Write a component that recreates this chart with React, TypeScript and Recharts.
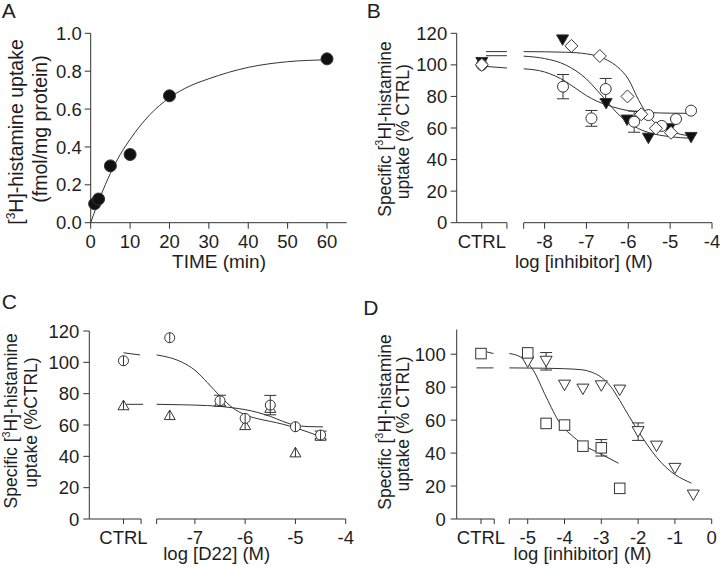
import React from 'react';
import { ComposedChart, Line, Scatter, XAxis, YAxis, ReferenceLine, ErrorBar } from 'recharts';

const FONT = '"Liberation Sans", Arial, Helvetica, sans-serif';
const INK = '#1e1e1e';
const STROKE = '#333';

// ---- A: time course ----
const timeMin = [1, 2, 5, 10, 20, 60];
const uptakeFmol = [0.1, 0.125, 0.3, 0.36, 0.67, 0.865];
const timeFitX = [0, 2.5, 5, 7.5, 10, 15, 20, 25, 30, 40, 50, 60];
const timeFitY = [0, 0.14, 0.26, 0.36, 0.44, 0.57, 0.66, 0.72, 0.76, 0.82, 0.85, 0.86];
const timeTicks = [0, 10, 20, 30, 40, 50, 60];
const uptakeTicks = [0, 0.2, 0.4, 0.6, 0.8, 1.0];

// ---- B: inhibitors (filled triangle, diamond, circle) ----
const B_CTRL = -9.5;
const bTicks = [B_CTRL, -8.9, -8.5, -8, -7, -6, -5, -4];
const bTickText = ['CTRL', '', '', '-8', '-7', '-6', '-5', '-4'];
const bTriX = [B_CTRL, -7.57, -6.53, -6.03, -5.52, -5.02, -4.5];
const bTriY = [101.5, 115.8, 75.5, 65, 53.5, 59.5, 54];
const bDiaX = [B_CTRL, -7.36, -6.68, -6.02, -5.69, -5.34, -4.98];
const bDiaY = [100, 112, 105.6, 80, 68.7, 59.8, 57];
const bCirX = [B_CTRL, -7.56, -6.88, -6.54, -5.86, -5.52, -5.2, -4.86, -4.5];
const bCirY = [100, 86.2, 66.1, 84.7, 64, 68.2, 61.3, 65.7, 71];
const bCirErr = [0, 7.7, 5, 6.7, 6.7, 0, 0, 0, 0];
const bFitCtrlX = [-9.4, -8.9];
const bFitDiaCtrlY = [108.4, 108.4];
const bFitTriCtrlY = [105.8, 105.8];
const bFitCirCtrlY = [99, 98];
const bFitDiaX = [-8.5, -7.5, -7, -6.5, -6.25, -6, -5.75, -5.5, -5.25, -5, -4.75, -4.5];
const bFitDiaY = [108.4, 108, 107, 103, 98.5, 91, 77.5, 67, 61, 58, 56, 55];
const bFitTriX = [-8.5, -8, -7.5, -7, -6.75, -6.5, -6.25, -6, -5.75, -5.5, -5, -4.5];
const bFitTriY = [105.5, 104, 100, 91, 84, 76.5, 69, 63.5, 59.5, 57, 54.5, 53.5];
const bFitCirX = [-8.5, -8, -7.5, -7.25, -7, -6.75, -6.5, -6, -5.5, -5, -4.5];
const bFitCirY = [97.5, 95.5, 89.5, 85, 80.5, 77, 74.5, 71, 69.8, 69.4, 69.3];

// ---- C: D22 ----
const C_CTRL = -8.42;
const cTicks = [C_CTRL, -8.07, -7.76, -7, -6, -5, -4];
const cTickText = ['CTRL', '', '', '-7', '-6', '-5', '-4'];
const cCirX = [C_CTRL, -7.5, -6.5, -6, -5.5, -5, -4.5];
const cCirY = [101, 115.7, 75.5, 64.2, 72.7, 58.9, 53.6];
const cCirErr = [0, 0, 3.5, 0, 6.2, 0, 2.5];
const cTriX = [C_CTRL, -7.5, -6.5, -6, -5.5, -5, -4.5];
const cTriY = [72.7, 66.4, 75, 60, 71, 42.6, 53.2];
const cFitCirCtrlX = [-8.42, -8.09];
const cFitCirCtrlY = [106.1, 104.7];
const cFitTriCtrlX = [-8.36, -8.03];
const cFitTriCtrlY = [73.2, 73.2];
const cFitCirX = [-7.76, -7.5, -7.25, -7, -6.75, -6.5, -6.25, -6, -5.75, -5.5, -5.25, -5, -4.75, -4.45];
const cFitCirY = [104.7, 103, 100, 95, 87, 78.5, 71, 66.5, 64, 62.3, 60.5, 58.2, 55.5, 52];
const cFitTriX = [-7.76, -7.25, -6.75, -6.5, -6.25, -6, -5.75, -5.5, -5.25, -5, -4.75, -4.45];
const cFitTriY = [73.2, 72.9, 72.4, 71.9, 71, 69.8, 68, 65.5, 62.3, 59.8, 59, 58.8];

// ---- D: inhibitors (square, open triangle) ----
const D_CTRL = -6.27;
const dTicks = [D_CTRL, -5.91, -5.5, -5, -4, -3, -2, -1, 0];
const dTickText = ['CTRL', '', '', '-5', '-4', '-3', '-2', '-1', '0'];
const dSqX = [D_CTRL, -5, -4.5, -4, -3.5, -3, -2.5];
const dSqY = [100.4, 100.8, 58, 57, 44.2, 43.2, 18.6];
const dSqErr = [0, 0, 0, 0, 0, 5, 0];
const dTriX = [-5, -4.5, -4, -3.5, -3, -2.5, -2, -1.5, -1, -0.5];
const dTriY = [95.3, 95.7, 81.2, 78.8, 80.8, 78.2, 53, 44.2, 30.7, 14.5];
const dTriErr = [0, 5.3, 0, 0, 0, 0, 5.3, 0, 0, 0];
const dFitSqCtrlX = [-6.11, -5.93];
const dFitSqCtrlY = [101.4, 100.4];
const dFitTriCtrlX = [-6.39, -5.93];
const dFitTriCtrlY = [91.7, 91.7];
const dFitSqX = [-5.5, -5.2, -4.85, -4.5, -4.12, -3.76, -3.4, -3.04, -2.53];
const dFitSqY = [100.4, 98.4, 90.3, 74.1, 58, 49.9, 43.8, 39.8, 33.8];
const dFitTriX = [-5.5, -4.5, -4, -3.5, -3.25, -3, -2.75, -2.5, -2.25, -2, -1.75, -1.5, -1.25, -1, -0.75, -0.55];
const dFitTriY = [91.7, 91.5, 91.2, 90.5, 89, 86, 80.5, 72, 62.5, 53.5, 45, 37.5, 31.5, 27, 23.8, 21.8];

type Row = { x: number; y: number; err?: number };
const rows = (xs: number[], ys: number[], errs?: number[]): Row[] =>
  xs.map((x, i) => ({ x, y: ys[i], err: errs ? errs[i] : undefined }));

const tickStyle = { fill: INK, fontSize: 18.5, fontFamily: FONT };

// marker shapes
const dot = (r: number, fill: string, bar = false) => (p: any) => (
  <g>
    <circle cx={p.cx} cy={p.cy} r={r} fill={fill} stroke={STROKE} strokeWidth={1} />
    {bar && <line x1={p.cx} x2={p.cx} y1={p.cy - r} y2={p.cy + r} stroke={STROKE} strokeWidth={1} />}
  </g>
);
const triDown = (w: number, fill: string) => (p: any) => (
  <polygon
    points={`${p.cx - w / 2},${p.cy - w * 0.42} ${p.cx + w / 2},${p.cy - w * 0.42} ${p.cx},${p.cy + w * 0.45}`}
    fill={fill}
    stroke={STROKE}
    strokeWidth={1}
  />
);
const triUp = (w: number, bar = false) => (p: any) => (
  <g>
    <polygon
      points={`${p.cx},${p.cy - w * 0.45} ${p.cx + w / 2},${p.cy + w * 0.42} ${p.cx - w / 2},${p.cy + w * 0.42}`}
      fill="#fff"
      stroke={STROKE}
      strokeWidth={1}
    />
    {bar && <line x1={p.cx} x2={p.cx} y1={p.cy - w * 0.45} y2={p.cy + w * 0.42} stroke={STROKE} strokeWidth={1} />}
  </g>
);
const diamond = (s: number) => (p: any) => (
  <polygon
    points={`${p.cx},${p.cy - s} ${p.cx + s},${p.cy} ${p.cx},${p.cy + s} ${p.cx - s},${p.cy}`}
    fill="#fff"
    stroke={STROKE}
    strokeWidth={1}
  />
);
const square = (s: number) => (p: any) => (
  <rect x={p.cx - s / 2} y={p.cy - s / 2} width={s} height={s} fill="#fff" stroke={STROKE} strokeWidth={1} />
);

const RotText = ({ x, y, size, children }: { x: number; y: number; size: number; children: React.ReactNode }) => (
  <text transform={`translate(${x},${y}) rotate(-90)`} textAnchor="middle" fontSize={size} fill={INK} fontFamily={FONT}>
    {children}
  </text>
);
const H3 = (size: number, rest: string) => (
  <>
    [<tspan dy={-0.42 * size} fontSize={size * 0.62}>3</tspan>
    <tspan dy={0.42 * size}>{rest}</tspan>
  </>
);
const Letter = ({ x, y, t }: { x: number; y: number; t: string }) => (
  <text x={x} y={y} fontSize={21} fill={INK} fontFamily={FONT}>{t}</text>
);
const XTitle = ({ x, y, size, t }: { x: number; y: number; size: number; t: string }) => (
  <text x={x} y={y} textAnchor="middle" fontSize={size} fill={INK} fontFamily={FONT}>{t}</text>
);

function TimeCourse() {
  const pts = rows(timeMin, uptakeFmol);
  const fit = rows(timeFitX, timeFitY);
  return (
    <ComposedChart width={360} height={290} margin={{ top: 33.3, right: 13.3, bottom: 0, left: 0 }}>
      <XAxis
        type="number"
        dataKey="x"
        domain={[0, 65]}
        ticks={timeTicks}
        interval={0}
        height={67.3}
        tickSize={6}
        tickMargin={6.5}
        stroke={STROKE}
        tick={tickStyle}
        label={() => (
          <g>
            <Letter x={1.7} y={18.3} t="A" />
            <RotText x={23} y={132} size={19.5}>{H3(19.5, 'H]-histamine uptake')}</RotText>
            <RotText x={47} y={129} size={19.5}>(fmol/mg protein)</RotText>
            <XTitle x={219} y={268} size={19} t="TIME (min)" />
          </g>
        )}
      />
      <YAxis
        type="number"
        dataKey="y"
        domain={[0, 1]}
        ticks={uptakeTicks}
        interval={0}
        width={90.7}
        tickSize={6}
        tickMargin={3}
        tickFormatter={(v: number) => v.toFixed(1)}
        stroke={STROKE}
        tick={tickStyle}
      />
      <Line data={fit} dataKey="y" type="monotone" stroke={STROKE} strokeWidth={1} dot={false} activeDot={false} isAnimationActive={false} />
      <Scatter data={pts} dataKey="y" shape={dot(6, '#111')} isAnimationActive={false} />
    </ComposedChart>
  );
}

type Marker = { data: Row[]; shape: (p: any) => React.ReactElement; cap?: number };

interface DoseProps {
  height: number;
  top: number;
  right: number;
  yWidth: number;
  xHeight: number;
  xDomain: [number, number];
  xTicks: number[];
  xTickText: string[];
  axisSegs: [number, number][];
  yDomain: [number, number];
  yTicks: number[];
  xTickSize: number;
  xTickMargin: number;
  yTickMargin: number;
  fits: Row[][];
  markers: Marker[];
  titles: () => React.ReactElement;
}

function DoseChart(p: DoseProps) {
  return (
    <ComposedChart width={360} height={p.height} margin={{ top: p.top, right: p.right, bottom: 0, left: 0 }}>
      <XAxis
        type="number"
        dataKey="x"
        domain={p.xDomain}
        allowDataOverflow
        ticks={p.xTicks}
        interval={0}
        tickFormatter={(v: number) => p.xTickText[p.xTicks.indexOf(v)]}
        axisLine={false}
        tickSize={p.xTickSize}
        tickMargin={p.xTickMargin}
        stroke={STROKE}
        tick={tickStyle}
        height={p.xHeight}
        label={p.titles}
      />
      <YAxis
        type="number"
        dataKey="y"
        domain={p.yDomain}
        allowDataOverflow
        ticks={p.yTicks}
        interval={0}
        width={p.yWidth}
        tickSize={6}
        tickMargin={p.yTickMargin}
        stroke={STROKE}
        tick={tickStyle}
      />
      {p.axisSegs.map(([a, b], i) => (
        <ReferenceLine key={'s' + i} segment={[{ x: a, y: 0 }, { x: b, y: 0 }]} stroke={STROKE} strokeWidth={1} ifOverflow="visible" />
      ))}
      {p.fits.map((f, i) => (
        <Line key={'f' + i} data={f} dataKey="y" type="monotone" stroke={STROKE} strokeWidth={1} dot={false} activeDot={false} isAnimationActive={false} />
      ))}
      {p.markers.map((m, i) => (
        <Scatter key={'m' + i} data={m.data} dataKey="y" shape={m.shape} isAnimationActive={false}>
          {m.cap ? <ErrorBar dataKey="err" direction="y" width={m.cap} stroke={STROKE} strokeWidth={1} /> : null}
        </Scatter>
      ))}
    </ComposedChart>
  );
}

const pctTicks120 = [0, 20, 40, 60, 80, 100, 120];
const pctTicks100 = [0, 20, 40, 60, 80, 100];

export default function App() {
  return (
    <div style={{ position: 'absolute', left: 0, top: 0, width: 720, height: 568, background: '#fff' }}>
      <div style={{ position: 'absolute', left: 0, top: 0 }}>
        <TimeCourse />
      </div>
      <div style={{ position: 'absolute', left: 360, top: 0 }}>
        <DoseChart
          height={290}
          top={33.3}
          right={8}
          yWidth={96.7}
          xHeight={67.3}
          xDomain={[-10.1, -4]}
          xTicks={bTicks}
          xTickText={bTickText}
          axisSegs={[[-10.1, -8.9], [-8.5, -4]]}
          yDomain={[0, 120]}
          yTicks={pctTicks120}
          xTickSize={6}
          xTickMargin={6.5}
          yTickMargin={3.5}
          fits={[
            rows(bFitCtrlX, bFitDiaCtrlY),
            rows(bFitCtrlX, bFitTriCtrlY),
            rows(bFitCtrlX, bFitCirCtrlY),
            rows(bFitDiaX, bFitDiaY),
            rows(bFitTriX, bFitTriY),
            rows(bFitCirX, bFitCirY),
          ]}
          markers={[
            { data: rows(bTriX, bTriY), shape: triDown(12, '#111') },
            { data: rows(bCirX, bCirY, bCirErr), shape: dot(5.5, '#fff'), cap: 6 },
            { data: rows(bDiaX, bDiaY), shape: diamond(6.5) },
          ]}
          titles={() => (
            <g>
              <Letter x={6.7} y={18.3} t="B" />
              <RotText x={30.7} y={129} size={17.5}>
                Specific {H3(17.5, 'H]-histamine')}
              </RotText>
              <RotText x={49.3} y={131.7} size={17.5}>uptake (% CTRL)</RotText>
              <XTitle x={223.8} y={268.3} size={18.5} t="log [inhibitor] (M)" />
            </g>
          )}
        />
      </div>
      <div style={{ position: 'absolute', left: 0, top: 290 }}>
        <DoseChart
          height={278}
          top={41}
          right={14.3}
          yWidth={89.3}
          xHeight={49}
          xDomain={[-9.1, -4]}
          xTicks={cTicks}
          xTickText={cTickText}
          axisSegs={[[-9.1, -8.07], [-7.76, -4]]}
          yDomain={[0, 120]}
          yTicks={pctTicks120}
          xTickSize={5}
          xTickMargin={7}
          yTickMargin={4}
          fits={[
            rows(cFitCirCtrlX, cFitCirCtrlY),
            rows(cFitTriCtrlX, cFitTriCtrlY),
            rows(cFitCirX, cFitCirY),
            rows(cFitTriX, cFitTriY),
          ]}
          markers={[
            { data: rows(cTriX, cTriY), shape: triUp(11, true) },
            { data: rows(cCirX, cCirY, cCirErr), shape: dot(5, '#fff', true), cap: 6 },
          ]}
          titles={() => (
            <g>
              <Letter x={1.7} y={19.3} t="C" />
              <RotText x={17.3} y={130.8} size={17.5}>
                Specific {H3(17.5, 'H]-histamine')}
              </RotText>
              <RotText x={36.7} y={132.5} size={17.5}>uptake (%CTRL)</RotText>
              <XTitle x={216.7} y={270} size={18.5} t="log [D22] (M)" />
            </g>
          )}
        />
      </div>
      <div style={{ position: 'absolute', left: 360, top: 290 }}>
        <DoseChart
          height={278}
          top={39.5}
          right={8.3}
          yWidth={96.7}
          xHeight={49}
          xDomain={[-6.93, 0]}
          xTicks={dTicks}
          xTickText={dTickText}
          axisSegs={[[-6.93, -5.91], [-5.5, 0]]}
          yDomain={[0, 115]}
          yTicks={pctTicks100}
          xTickSize={5}
          xTickMargin={7}
          yTickMargin={5}
          fits={[
            rows(dFitSqCtrlX, dFitSqCtrlY),
            rows(dFitTriCtrlX, dFitTriCtrlY),
            rows(dFitSqX, dFitSqY),
            rows(dFitTriX, dFitTriY),
          ]}
          markers={[
            { data: rows(dTriX, dTriY, dTriErr), shape: triDown(12, '#fff'), cap: 6 },
            { data: rows(dSqX, dSqY, dSqErr), shape: square(10.5), cap: 6 },
          ]}
          titles={() => (
            <g>
              <Letter x={3.3} y={25} t="D" />
              <RotText x={30.7} y={132} size={17.5}>
                Specific {H3(17.5, 'H]-histamine')}
              </RotText>
              <RotText x={49.3} y={134} size={17.5}>uptake (% CTRL)</RotText>
              <XTitle x={222.5} y={269.5} size={18.5} t="log [inhibitor] (M)" />
            </g>
          )}
        />
      </div>
    </div>
  );
}
